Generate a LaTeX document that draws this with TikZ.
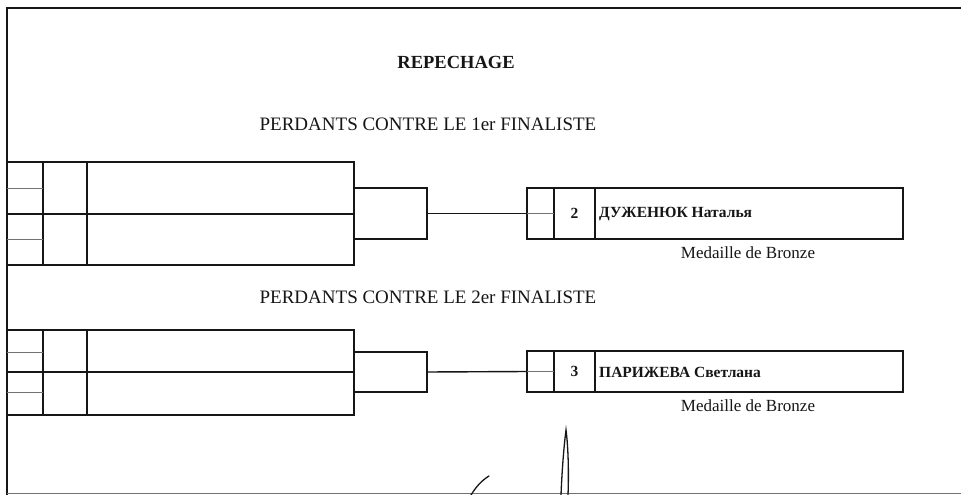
\documentclass[tikz,border=0pt]{standalone}
\usepackage{fontspec}
\setmainfont{Liberation Serif}
\usetikzlibrary{positioning,calc}
\definecolor{ink}{RGB}{22,22,22}
\definecolor{faint}{RGB}{115,115,115}
\definecolor{paper}{RGB}{255,255,255}

\begin{document}
\begin{tikzpicture}[x=1pt,y=-1pt,
 ln/.style={draw=ink,line width=1.6pt},
 fl/.style={draw=faint,line width=.8pt},
 bx/.style={draw=ink,line width=1.6pt,inner sep=0pt,outer sep=0pt,anchor=north west},
 cn/.style={draw=ink,line width=1.4pt},
 hd/.style={text=ink,inner sep=0pt,font=\fontsize{19}{20}\selectfont},
 hb/.style={text=ink,inner sep=0pt,font=\bfseries\fontsize{18.5}{20}\selectfont},
 nm/.style={text=ink,inner sep=0pt,font=\bfseries\fontsize{15.5}{16}\selectfont},
 md/.style={text=ink,inner sep=0pt,font=\fontsize{17}{18}\selectfont},
 sg/.style={draw=ink,line width=1.3pt,line cap=round}]
\useasboundingbox[fill=paper] (0,0) rectangle (961,495);
% frame
\draw[ln] (961,8)--(7,8)--(7,495);
\draw[fl] (7,493)--(961,493);
% titles
\node[hb] (rep) at (456,62) {REPECHAGE};
\node[hd] (f1) at (428,124) {PERDANTS CONTRE LE 1er FINALISTE};
\node[hd] (f2) at (428,297) {PERDANTS CONTRE LE 2er FINALISTE};
% first repechage
\draw[ln] (7,162) rectangle (354,265) (7,214)--(354,214) (43,162)--(43,265) (87,162)--(87,265);
\draw[fl] (7,188)--(43,188) (7,239)--(43,239);
\node[bx,minimum width=73pt,minimum height=51pt] (q1) at (354,188) {};
\node[bx,minimum width=376pt,minimum height=51pt] (w1) at (527,188) {};
\draw[ln] (554,188)--(554,239) (595,188)--(595,239);
\draw[cn] (q1.east)--(w1.west);\draw[fl] (w1.west)--(554,213.5);
\node[nm] (k1) at (574.5,213.5) {2};
\node[nm,anchor=west] (p1) at (599,214) {ДУЖЕНЮК Наталья};
\node[md] (m1) at (748,253) {Medaille de Bronze};
% second repechage
\draw[ln] (7,330) rectangle (354,415) (7,372)--(354,372) (43,330)--(43,415) (87,330)--(87,415);
\draw[fl] (7,352)--(43,352) (7,392)--(43,392);
\node[bx,minimum width=73pt,minimum height=40pt] (q2) at (354,352) {};
\node[bx,minimum width=376pt,minimum height=41pt] (w2) at (527,351) {};
\draw[ln] (554,351)--(554,392) (595,351)--(595,392);
\draw[cn] (q2.east)--(w2.west);\draw[fl] (w2.west)--(554,371.5);
\node[nm] (k2) at (574.5,371.5) {3};
\node[nm,anchor=west] (p2) at (599,372) {ПАРИЖЕВА Светлана};
\node[md] (m2) at (748,406) {Medaille de Bronze};
% signature
\draw[sg] (471,495) .. controls (476,487) and (481,481) .. (489,476);
\draw[sg] (561,495) .. controls (562,470) and (564,445) .. (566,430) .. controls (568,445) and (569,470) .. (568,495);
\end{tikzpicture}
\end{document}
